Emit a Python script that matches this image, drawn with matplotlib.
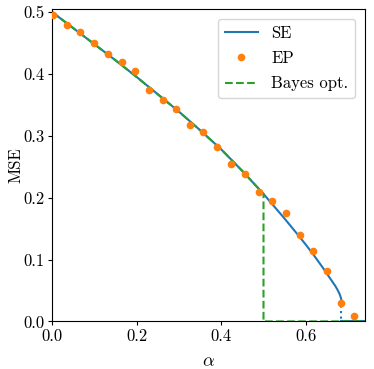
import matplotlib
matplotlib.use("Agg")
import matplotlib.pyplot as plt
import numpy as np

plt.rcParams['font.family'] = 'serif'
plt.rcParams['font.serif'] = ['cmr10']
plt.rcParams['mathtext.fontset'] = 'cm'
plt.rcParams['axes.unicode_minus'] = False
plt.rcParams['axes.formatter.use_mathtext'] = True

# State evolution (SE) curve
se_alpha = [0.0, 0.05, 0.1, 0.15, 0.2, 0.25, 0.3, 0.35, 0.4, 0.45, 0.5, 0.55,
            0.58, 0.6, 0.62, 0.64, 0.65, 0.66, 0.67, 0.675, 0.68, 0.682, 0.6835, 0.684]
se_mse = [0.5, 0.474, 0.448, 0.422, 0.395, 0.367, 0.339, 0.309, 0.278, 0.243, 0.206, 0.166,
          0.141, 0.124, 0.106, 0.087, 0.077, 0.067, 0.057, 0.051, 0.044, 0.040, 0.037, 0.034]
alpha_spinodal = 0.684
alpha_max = 0.74

# EP experiments
ep_alpha = [0.003, 0.035, 0.067, 0.100, 0.132, 0.165, 0.196, 0.229, 0.262, 0.294, 0.327,
            0.358, 0.391, 0.423, 0.457, 0.489, 0.521, 0.554, 0.586, 0.618, 0.651, 0.683, 0.715]
ep_mse = [0.495, 0.479, 0.468, 0.450, 0.432, 0.419, 0.404, 0.374, 0.358, 0.343, 0.317,
          0.306, 0.281, 0.254, 0.238, 0.209, 0.194, 0.175, 0.140, 0.114, 0.082, 0.030, 0.008]

# Bayes-optimal transition
alpha_bayes = 0.5

fig = plt.figure(figsize=(3.74, 3.69), dpi=100)
ax = fig.add_axes([0.139, 0.129, 0.837, 0.847])

se_a = np.array(se_alpha)
se_m = np.array(se_mse)
ax.plot(se_a, se_m, color='tab:blue', lw=1.5, label='SE')
ax.plot([alpha_spinodal, alpha_spinodal], [se_m[-1], 0], color='tab:blue', lw=1.5, ls=':')
ax.plot([alpha_spinodal, alpha_max], [0, 0], color='tab:blue', lw=1.5)

ax.plot(ep_alpha, ep_mse, 'o', color='tab:orange', ms=4.5, label='EP', zorder=3)

mask = se_a <= alpha_bayes
b_a = np.concatenate([se_a[mask], [alpha_bayes, alpha_bayes, alpha_max]])
b_m = np.concatenate([se_m[mask], [np.interp(alpha_bayes, se_a, se_m), 0, 0]])
ax.plot(b_a, b_m, color='tab:green', lw=1.5, ls='--', label='Bayes opt.')

ax.set_xlim(0, alpha_max)
ax.set_ylim(0, 0.505)
ax.set_xticks([0.0, 0.2, 0.4, 0.6])
ax.set_yticks([0.0, 0.1, 0.2, 0.3, 0.4, 0.5])
ax.set_xticklabels(['0.0', '0.2', '0.4', '0.6'])
ax.set_yticklabels(['0.0', '0.1', '0.2', '0.3', '0.4', '0.5'])
ax.tick_params(labelsize=12, length=3, pad=2.5)
ax.set_xlabel(r'$\alpha$', fontsize=13, labelpad=7)
ax.set_ylabel('MSE', fontsize=12, labelpad=0)
ax.legend(loc='upper right', fontsize=12, labelspacing=0.6, borderaxespad=0.6)

fig.savefig('out.png', dpi=100)
